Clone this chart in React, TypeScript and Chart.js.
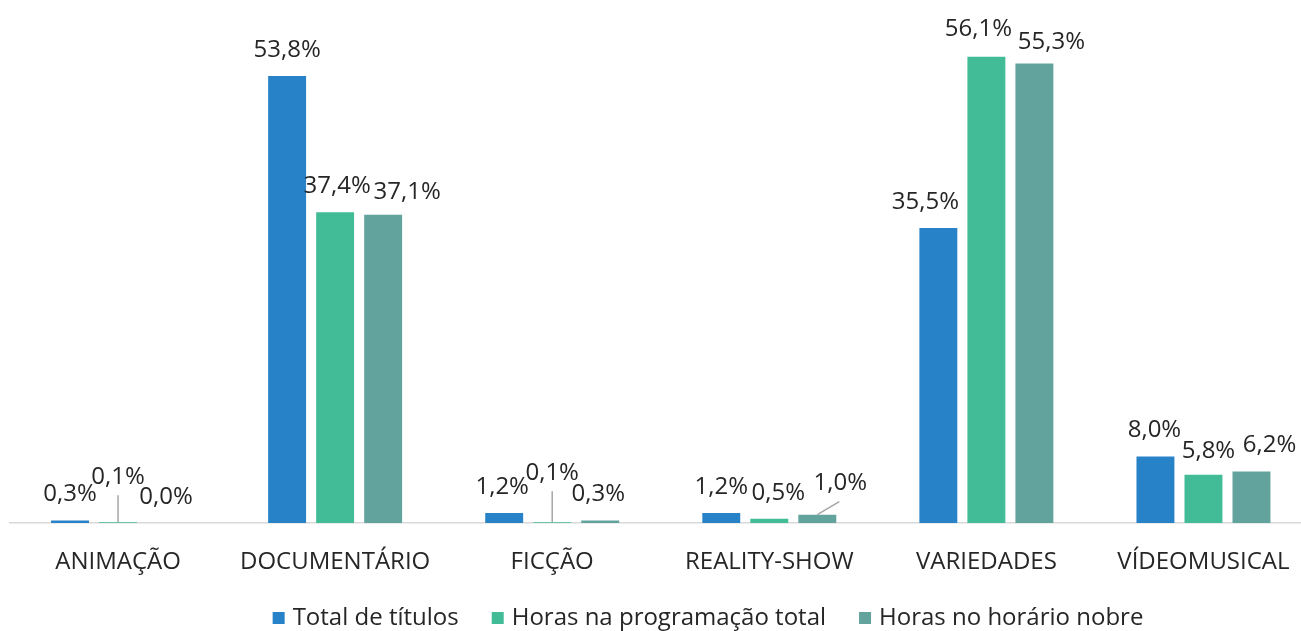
import React, { useEffect, useRef } from "react";
import { Chart, registerables } from "chart.js";

Chart.register(...registerables);

const categories = ["ANIMAÇÃO", "DOCUMENTÁRIO", "FICÇÃO", "REALITY-SHOW", "VARIEDADES", "VÍDEOMUSICAL"];
const seriesNames = ["Total de títulos", "Horas na programação total", "Horas no horário nobre"];
const totalTitulos = [0.3, 53.8, 1.2, 1.2, 35.5, 8.0];
const horasTotal = [0.1, 37.4, 0.1, 0.5, 56.1, 5.8];
const horasNobre = [0.0, 37.1, 0.3, 1.0, 55.3, 6.2];
const colors = ["#2882C8", "#42BC97", "#62A39E"];

// label offsets (style): [dataset][category] = [dx, dy]
const labelOffsets: number[][][] = [
  [[0, 0], [0, 0], [-2, 0], [0, 0], [-13, 0], [-1, 0]],
  [[0, -19], [2, 0], [0, -23], [9, 0], [-8, -2], [5, 2]],
  [[0, 0], [24, 3], [-2, 0], [23, -6], [17, 5], [18, 0]],
];
// leader lines: dataset, index, end dx, end dy (relative to bar top)
const leaders = [
  { ds: 1, idx: 0, dx: 0, dy: -27 },
  { ds: 1, idx: 2, dx: 0, dy: -31 },
  { ds: 2, idx: 3, dx: 22, dy: -13 },
];

const FONT = "'Open Sans', 'Noto Sans', sans-serif";
const TEXT = "#262626";

const fmt = (v: number) => v.toFixed(1).replace(".", ",") + "%";

const labelsPlugin = {
  id: "customLabels",
  afterDatasetsDraw(chart: any) {
    const ctx = chart.ctx;
    ctx.save();
    ctx.strokeStyle = "#A6A6A6";
    ctx.lineWidth = 1.5;
    leaders.forEach((l) => {
      const el = chart.getDatasetMeta(l.ds).data[l.idx];
      ctx.beginPath();
      ctx.moveTo(el.x, el.y);
      ctx.lineTo(el.x + l.dx, el.y + l.dy);
      ctx.stroke();
    });
    ctx.font = `24px ${FONT}`;
    ctx.fillStyle = TEXT;
    ctx.textAlign = "center";
    ctx.textBaseline = "middle";
    chart.data.datasets.forEach((ds: any, di: number) => {
      const meta = chart.getDatasetMeta(di);
      meta.data.forEach((el: any, i: number) => {
        const [dx, dy] = labelOffsets[di][i];
        ctx.fillText(fmt(ds.data[i]), el.x + dx, el.y - 26 + dy);
      });
    });
    ctx.restore();
  },
  afterDraw(chart: any) {
    const ctx = chart.ctx;
    ctx.save();
    ctx.font = `24px ${FONT}`;
    const box = 12;
    const textGap = 8;
    const itemGap = 33;
    const widths = seriesNames.map((n) => ctx.measureText(n).width);
    const total = widths.reduce((a, w) => a + box + textGap + w, 0) + itemGap * (seriesNames.length - 1);
    let x = 708 - total / 2;
    const y = 618;
    ctx.textBaseline = "middle";
    ctx.textAlign = "left";
    seriesNames.forEach((n, i) => {
      ctx.fillStyle = colors[i];
      ctx.fillRect(x, y - box / 2, box, box);
      x += box + textGap;
      ctx.fillStyle = TEXT;
      ctx.fillText(n, x, y);
      x += widths[i] + itemGap;
    });
    ctx.restore();
  },
};

export default function App() {
  const ref = useRef<HTMLCanvasElement>(null);
  useEffect(() => {
    const mk = (data: number[], i: number) => ({
      label: seriesNames[i],
      data,
      backgroundColor: colors[i],
      borderWidth: 0,
      categoryPercentage: 0.6636,
      barPercentage: 0.79,
    });
    const chart = new Chart(ref.current!, {
      type: "bar",
      data: {
        labels: categories,
        datasets: [mk(totalTitulos, 0), mk(horasTotal, 1), mk(horasNobre, 2)],
      },
      options: {
        animation: false,
        responsive: false,
        layout: { padding: { left: 9.5, right: 0, top: 24.4, bottom: 0 } },
        plugins: { legend: { display: false }, tooltip: { enabled: false } },
        scales: {
          x: {
            grid: { display: false },
            border: { display: true, color: "#D9D9D9", width: 1.5 },
            ticks: { color: TEXT, font: { family: FONT, size: 24 }, padding: 17, maxRotation: 0, autoSkip: false },
            afterFit: (s: any) => {
              s.height = 108;
            },
          },
          y: { display: false, min: 0, max: 60 },
        },
      },
      plugins: [labelsPlugin],
    });
    return () => chart.destroy();
  }, []);
  return (
    <div style={{ position: "fixed", left: 0, top: 0, width: 1301, height: 631, overflow: "hidden", background: "#fff" }}>
      <canvas ref={ref} width={1312} height={631} style={{ display: "block" }} />
    </div>
  );
}
